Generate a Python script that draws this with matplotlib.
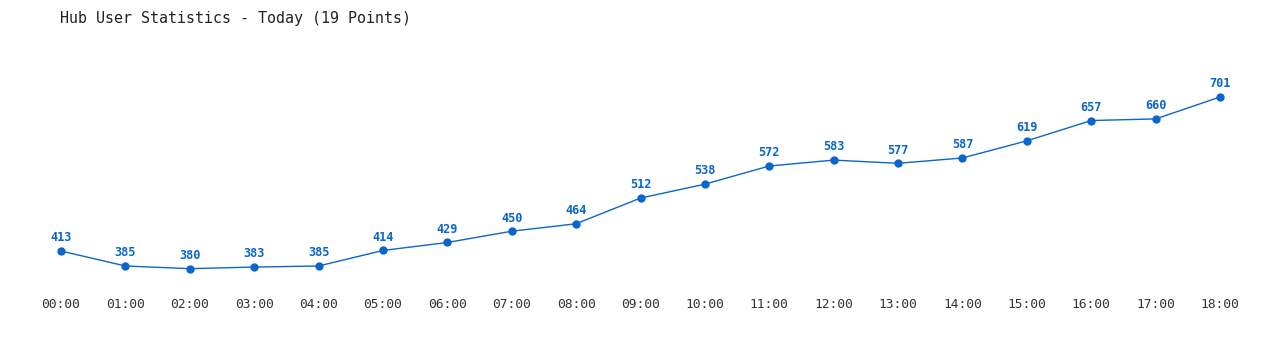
import matplotlib.pyplot as plt

hours = ["00:00", "01:00", "02:00", "03:00", "04:00", "05:00", "06:00", "07:00",
         "08:00", "09:00", "10:00", "11:00", "12:00", "13:00", "14:00", "15:00",
         "16:00", "17:00", "18:00"]
users = [413, 385, 380, 383, 385, 414, 429, 450, 464, 512, 538, 572, 583, 577,
         587, 619, 657, 660, 701]

blue = "#0a66cc"
mono = "DejaVu Sans Mono"

fig = plt.figure(figsize=(12.8, 3.5), dpi=100)
ax = fig.add_axes([61 / 1280, 60 / 350, 1159 / 1280, 250 / 350])

x = list(range(len(users)))
ax.plot(x, users, color=blue, linewidth=1, marker="o", markersize=5, clip_on=False)

for xi, v in zip(x, users):
    ax.annotate(str(v), (xi, v), xytext=(0, 9.5), textcoords="offset points",
                ha="center", va="center", fontsize=8.6, fontweight="bold",
                color=blue, family=mono)

ax.set_xlim(0, 18)
ax.set_ylim(340.1, 807.6)
ax.set_xticks(x)
ax.set_xticklabels(hours, family=mono, fontsize=9.3, color="#333333")
ax.tick_params(axis="x", length=0, pad=6)
ax.set_yticks([])
for s in ax.spines.values():
    s.set_visible(False)

fig.text(60 / 1280, 1 - 18 / 350, "Hub User Statistics - Today (19 Points)",
         family=mono, fontsize=10.8, color="#222222", va="center", ha="left")

fig.savefig("out.png", dpi=100)
